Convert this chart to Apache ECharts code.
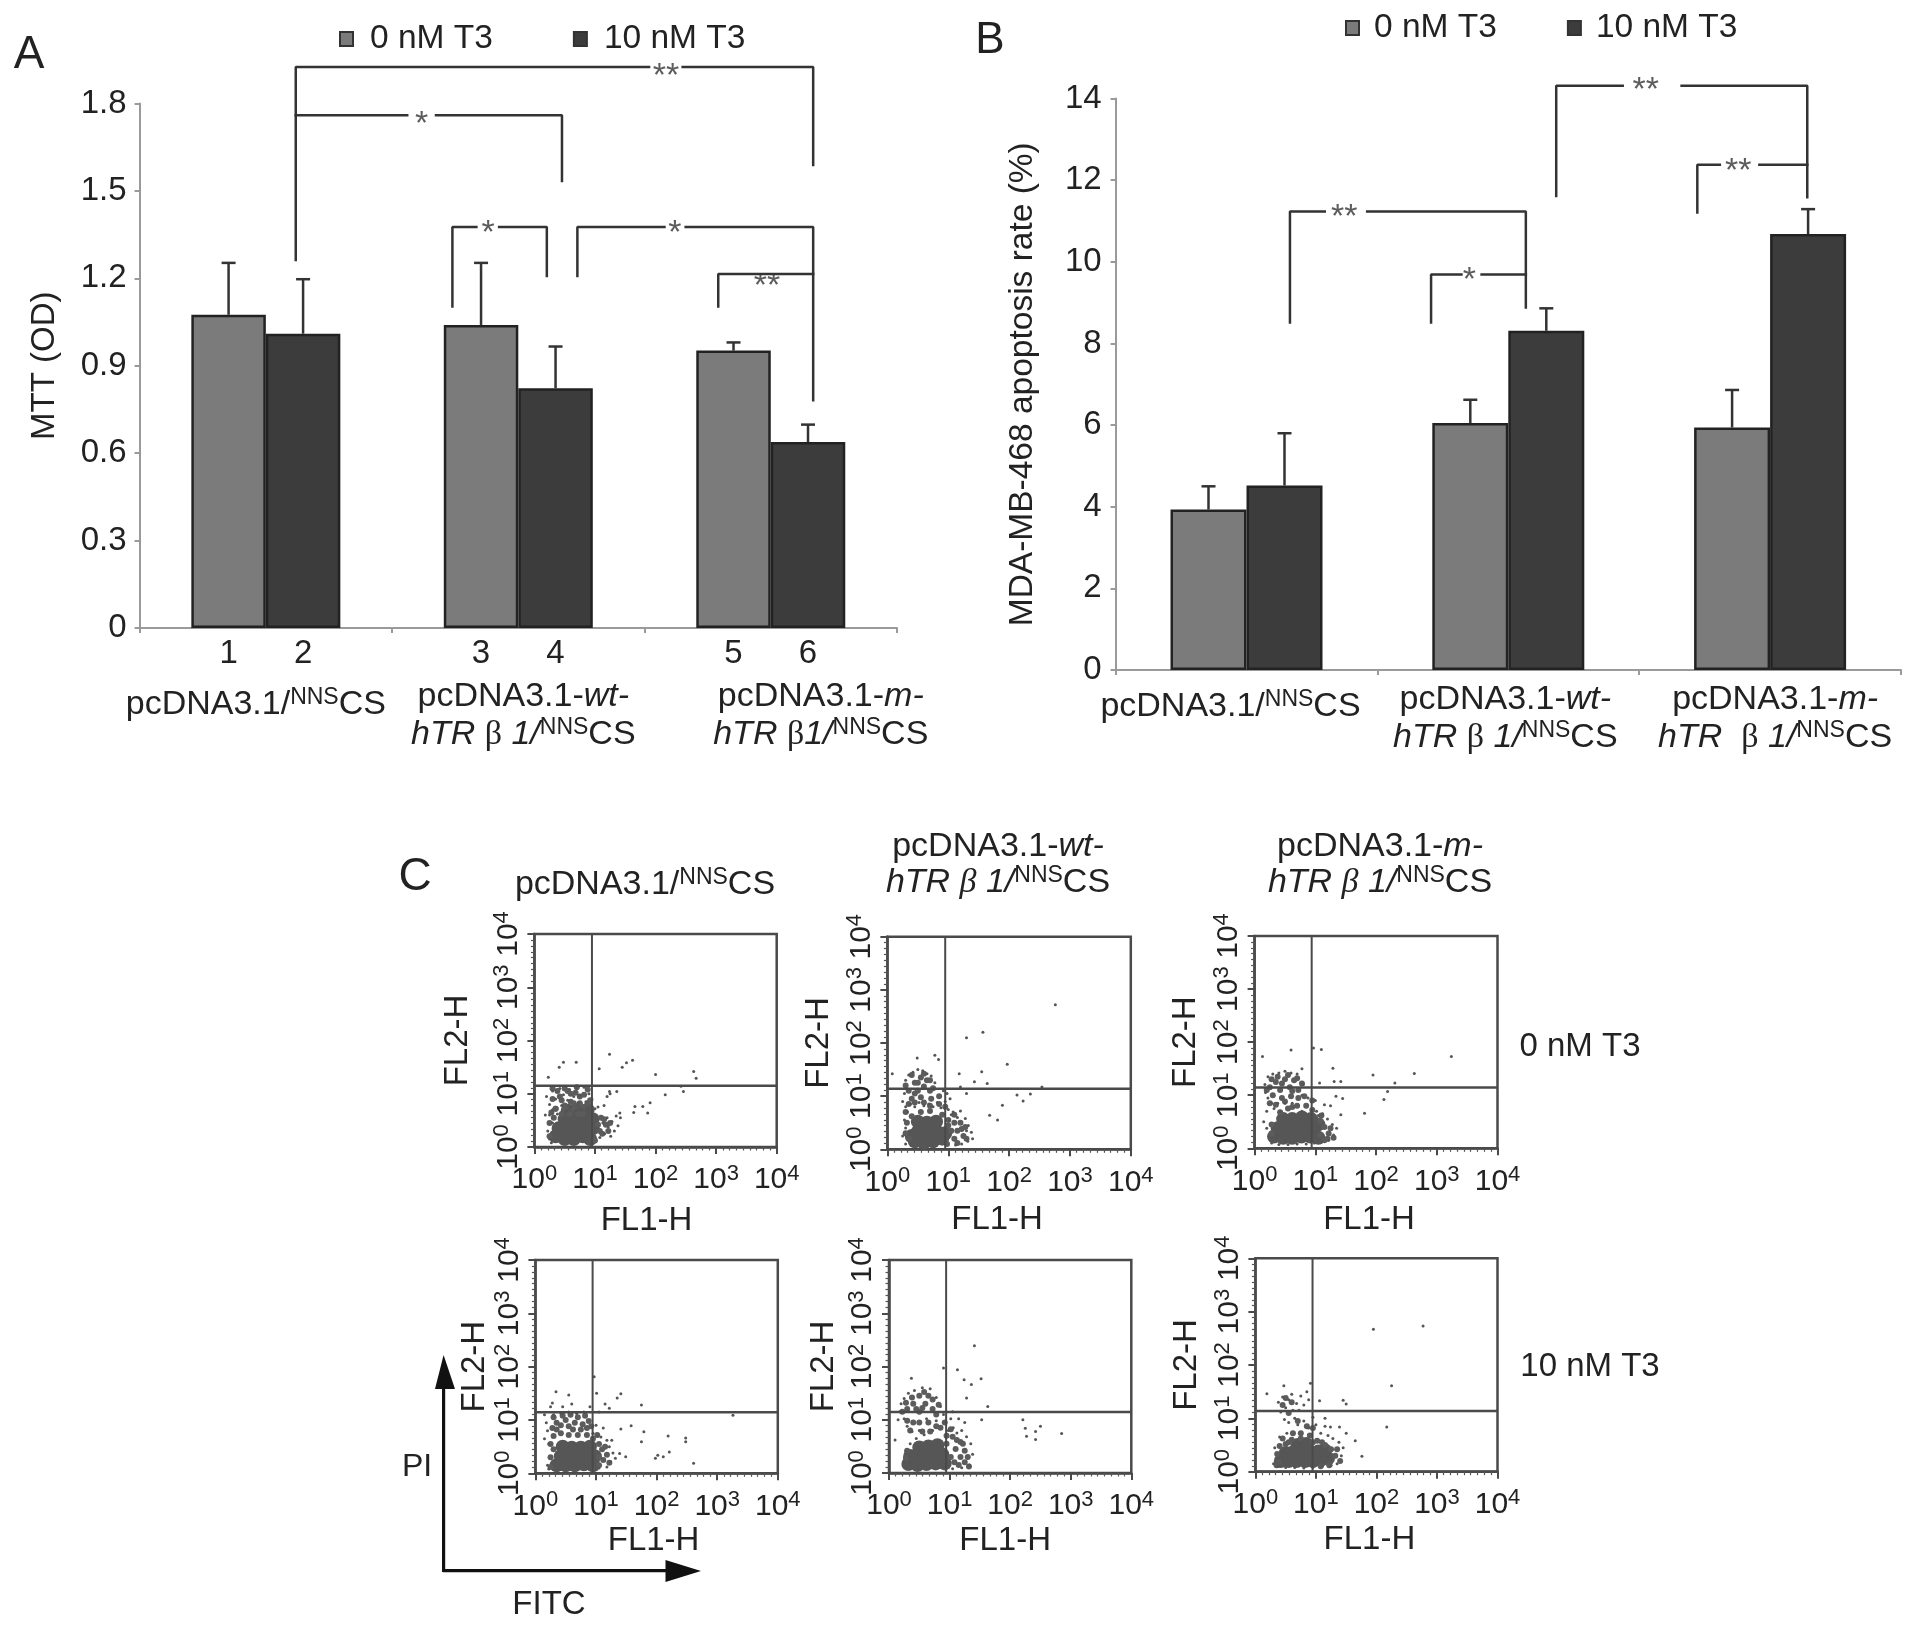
<!DOCTYPE html>
<html><head><meta charset="utf-8">
<style>html,body{margin:0;padding:0;background:#fff}#c{width:1913px;height:1630px}</style>
<script src="https://cdn.jsdelivr.net/npm/echarts@6/dist/echarts.min.js"></script>
</head><body><div id="c"></div>
<script>
// ---------- Panel A / B data ----------
const seriesNames = ['0 nM T3', '10 nM T3'];
const namesA = ['pcDNA3.1/{s|NNS}{n|CS}', 'pcDNA3.1-{i|wt-}\n{i|hTR}{n| }{g|β}{n| }{i|1/}{s|NNS}{n|CS}', 'pcDNA3.1-{i|m-}\n{i|hTR}{n| }{g|β}{i|1/}{s|NNS}{n|CS}'];
const namesB = ['pcDNA3.1/{s|NNS}{n|CS}', 'pcDNA3.1-{i|wt-}\n{i|hTR}{n| }{g|β}{n| }{i|1/}{s|NNS}{n|CS}', 'pcDNA3.1-{i|m-}\n{i|hTR}{n|  }{g|β}{n| }{i|1/}{s|NNS}{n|CS}'];
const laneNumbers0 = ['1', '3', '5'];
const laneNumbers10 = ['2', '4', '6'];
const mtt0 = [1.075, 1.04, 0.952];
const mtt10 = [1.01, 0.823, 0.638];
const mttErr0 = [1.253, 1.253, 0.98];
const mttErr10 = [1.197, 0.966, 0.698];
const apo0 = [3.93, 6.05, 5.94];
const apo10 = [4.52, 8.31, 10.68];
const apoErr0 = [4.5, 6.62, 6.86];
const apoErr10 = [5.8, 8.86, 11.29];
// significance brackets: x in group units (0..3), y in axis units
const bracketsA = [
  [[.6185,1.263],[.6185,1.925],[2.018,1.925]], [[2.151,1.925],[2.668,1.925],[2.668,1.589]],
  [[.6185,1.76],[1.060,1.76]], [[1.174,1.76],[1.673,1.76],[1.673,1.534]],
  [[1.239,1.103],[1.239,1.376],[1.334,1.376]], [[1.424,1.376],[1.613,1.376],[1.613,1.208]],
  [[1.734,1.208],[1.734,1.376],[2.079,1.376]], [[2.163,1.376],[2.668,1.376],[2.668,.782]],
  [[2.292,1.103],[2.292,1.215],[2.668,1.215]]
];
const starsA = [[2.085,1.92,'**'],[1.117,1.755,'*'],[1.38,1.38,'*'],[2.12,1.38,'*'],[2.485,1.2,'**']];
const bracketsB = [
  [[1.683,11.61],[1.683,14.31],[1.937,14.31]], [[2.162,14.31],[2.642,14.31],[2.642,11.58]],
  [[2.222,11.21],[2.222,12.38],[2.308,12.38]], [[2.459,12.38],[2.642,12.38]],
  [[.666,8.51],[.666,11.23],[.799,11.23]], [[.961,11.23],[1.567,11.23],[1.567,8.88]],
  [[1.205,8.51],[1.205,9.69],[1.321,9.69]], [[1.398,9.69],[1.567,9.69]]
];
const starsB = [[2.025,14.38,'**'],[2.378,12.4,'**'],[.873,11.28,'**'],[1.351,9.73,'*']];

// ---------- Panel C data (decades of FL1-H, FL2-H) ----------
const decadeTicks = ['0', '1', '2', '3', '4'];
const gates = [[.95,1.15],[.95,1.14],[.94,1.145],[.944,1.144],[.943,1.144],[.944,1.1375]];
const core1 = [[.35,.2],[.5,.15],[.65,.15],[.8,.2],[.92,.15],[.4,.35],[.55,.35],[.7,.35],[.85,.35],[.5,.52],[.68,.52],[.85,.55],[.55,.68],[.72,.68],[.88,.7],[.96,.35],[.96,.52]];
const mid1 = [[.35,.72],[.5,.78],[.65,.72],[.8,.75],[.42,.95],[.6,1],[.75,.95],[.32,.55],[1.08,.3],[1.18,.42],[1.1,.55],
  [.25,.2],[.25,.45],[.28,.65],[.3,.9],[.35,.72],[.38,1.05],[.45,.62],[.45,.88],[.5,.72],[.55,1.05],[.58,.62],[.6,.85],[.65,.82],[.68,1.02],[.72,.62],[.75,.82],[.8,.62],[.82,.98],[.88,.82],[.92,.88],[1,.12],[1.05,.42],[1.12,.25],[1.15,.52],[1.22,.3],[1.25,.45],[.3,1.1],[.5,1.1],[.7,1.12],[.88,1.08]];
const dots1 = [[.2,.95],[.25,.8],[.3,.7],[.3,1.05],[.35,.9],[.38,.62],[.42,1.1],[.45,.78],[.48,.98],[.52,.68],[.55,.88],[.58,1.08],[.6,.76],[.65,.95],[.68,.68],[.7,1.1],[.72,.82],[.75,.97],[.78,.72],[.82,1.12],[.85,.85],[.88,.7],[.9,1],[.93,.78],[.25,.6],[.3,.45],[.22,.3],[.25,.15],[.28,.08],[.18,.6],[.95,.9],[1,.72],[1.03,.55],[1.05,.35],[1.08,.18],[1.13,.45],[1.16,.25],[1.2,.55],[1.22,.38],[1.26,.2],[1.28,.48],[1.32,.3],[1.35,.58],[1.38,.4],[1.42,.55],[1.05,.75],[1.15,.78],[1.2,.95],[1.25,1],
  [1.24,1.74],[.48,1.59],[.69,1.59],[.41,1.5],[1.07,1.47],[1.45,1.5],[1.52,1.58],[1.62,1.63],[2,1.36],[2.63,1.42],[2.67,1.29],[2.42,1.14],[2.16,.98],[2.46,1.04],[1.91,.83],[1.79,.76],[1.66,.76],[1.87,.64],[1.64,.65],[1.41,.64],[1.36,1.04],[1.24,1.04],[.23,1.31]];
const core2 = [[.45,.15],[.6,.12],[.75,.15],[.9,.2],[.5,.33],[.65,.33],[.8,.35],[.95,.3],[.65,.5],[.8,.52],[.4,.25],[.5,.52]];
const mid2 = [[.35,1.1],[.45,1.25],[.5,1.1],[.55,1.35],[.6,1.18],[.65,1.3],[.7,1.1],[.4,.95],[.55,.98],[.72,.95],[.85,1],[.4,.62],[.55,.7],[.7,.72],[.9,.65],[1.1,.2],[1.15,.35],[1.2,.5],[1.1,.5],[1.25,.25],[.35,.2],
  [.3,1.2],[.4,1.4],[.5,1.25],[.45,1.05],[.6,1.42],[.7,1.3],[.75,1.15],[.35,.85],[.45,.88],[.6,.88],[.7,.82],[.85,.85],[.3,.7],[.3,.3],[.32,.5],[.95,.8],[1,.55],[1.05,.35],[1.1,.65],[1.15,.12],[1.22,.38],[1.3,.2],[1.28,.42],[.98,.1],[1,.45]];
const dots2 = [[.3,1.3],[.35,1.4],[.42,1.45],[.5,1.5],[.58,1.48],[.65,1.42],[.72,1.38],[.78,1.25],[.28,1.05],[.25,.9],[.3,.8],[.33,.7],[.28,.55],[.3,.4],[.25,.25],[.3,.1],[.38,.85],[.45,.8],[.52,.88],[.6,.82],[.68,.85],[.75,.8],[.82,.88],[.88,.78],[.95,.9],[1,.75],[1.03,.95],[1.05,.65],[.92,1.1],[.98,1.05],[1.02,.55],[1.08,.7],[1.15,.6],[1.2,.72],[1.28,.58],[1.33,.45],[1.38,.32],[1.4,.2],[1.32,.15],[1.22,.1],[1.12,.08],[1.3,.35],
  [2.76,2.72],[1.3,2.1],[1.57,2.2],[1.97,1.6],[.49,1.72],[.78,1.77],[.84,1.69],[.08,1.42],[1.18,1.42],[1.55,1.46],[1.43,1.27],[1.64,1.24],[2.54,1.17],[2.13,1.02],[2.35,1.04],[2.23,.91],[1.89,.83],[1.68,.64],[1.81,.55],[1.2,1.17],[1.3,1.05]];
const core3 = [[.32,.22],[.47,.2],[.62,.2],[.77,.22],[.92,.22],[.38,.38],[.53,.38],[.68,.38],[.83,.4],[.97,.35],[.62,.55],[.78,.58],[.93,.55],[.47,.55],[1.05,.2],[1.05,.45]];
const mid3 = [[.25,1.15],[.35,1.25],[.42,1.1],[.5,1.3],[.58,1.15],[.65,1.28],[.72,1.1],[.3,1],[.45,.95],[.6,.98],[.7,.8],[.85,.8],[.55,.75],[1.08,.25],[1.15,.4],[1.08,.52],[1.22,.28],
  [.2,1.1],[.28,1.3],[.38,1.35],[.45,1.22],[.55,1.38],[.62,1.08],[.7,1.32],[.78,1.22],[.25,.85],[.35,.82],[.42,.68],[.5,.88],[.62,.78],[.72,.95],[.82,.98],[.95,.9],[.28,.45],[.28,.28],[1.15,.15],[1.25,.38],[1.3,.2],[1.1,.62],[1.2,.18],[.95,.72]];
const dots3 = [[.18,1.05],[.17,1.2],[.22,1.35],[.3,1.4],[.4,1.42],[.5,1.45],[.6,1.42],[.7,1.4],[.78,1.5],[.8,1.2],[.78,1],[.22,.95],[.28,.85],[.2,.7],[.32,.75],[.15,.5],[.2,.38],[.38,.85],[.42,.7],[.5,.85],[.62,.85],[.78,.7],[.88,.95],[.95,.75],[1,.9],[1.02,.7],[1.05,.62],[1.12,.65],[1.2,.55],[1.28,.45],[1.35,.38],[1.3,.25],[1.22,.15],[1.1,.12],[.28,.1],[.4,.07],[.55,.07],[.7,.08],[.85,.08],[.98,.1],[1.15,.82],[1.25,.8],
  [.13,1.73],[.6,1.85],[1.1,1.86],[.97,1.89],[1.29,1.51],[3.24,1.73],[2.63,1.41],[1.95,1.38],[2.31,1.23],[2.19,1.07],[2.13,.92],[1.81,.66],[1.31,1.26],[1.42,1.26],[1.45,.94],[1.34,.98],[1.42,.63],[1.07,1.23]];
const core4 = [[.35,.15],[.5,.15],[.65,.15],[.8,.17],[.95,.15],[.42,.32],[.58,.32],[.72,.32],[.88,.33],[.6,.48],[.75,.48],[.9,.5],[.45,.5],[.98,.32]];
const mid4 = [[.3,.7],[.42,.75],[.55,.72],[.7,.72],[.85,.72],[.35,.95],[.5,1],[.65,.95],[.78,.92],[.88,.98],[1.05,.3],[1.1,.45],[1.05,.55],[.25,.3],
  [.25,.55],[.28,.85],[.35,.82],[.42,.9],[.45,1.08],[.55,.88],[.62,.82],[.7,1.05],[.75,.82],[.85,.85],[.3,1.05],[.58,1.1],[.95,.65],[1.05,.15],[1.12,.25],[1.18,.35],[1.15,.5],[1.22,.2],[.25,.12],[.3,.45],[.82,1.08],[.92,.88],[1.02,.72]];
const dots4 = [[.18,.95],[.2,.8],[.15,.65],[.22,.55],[.2,.15],[.22,.08],[.3,1.1],[.42,1.12],[.55,1.15],[.68,1.12],[.8,1.15],[.25,1.25],[.45,1.25],[.6,1.3],[.95,.75],[1,.9],[1.03,.7],[1.08,.68],[1.18,.62],[1.22,.5],[1.28,.38],[1.24,.22],[1.18,.12],[1.05,.1],[1.32,.28],[.9,1.25],[1.05,1.15],[1.15,1.3],[.28,1.32],[.15,1.1],[1.12,.85],
  [.34,1.53],[.55,1.47],[.97,1.81],[1.01,1.5],[1.35,1.41],[1.41,1.49],[1.75,1.28],[1.22,1.22],[3.26,1.09],[1.58,.89],[1.41,.83],[1.79,.78],[1.75,.59],[2.19,.7],[2.48,.66],[2.48,.59],[2.02,.34],[2.11,.31],[2.21,.4],[1.98,.28],[2.61,.19],[1.49,.31],[1.39,.37],[1.26,.62]];
const core5 = [[.32,.17],[.47,.15],[.62,.17],[.77,.18],[.92,.18],[.45,.32],[.6,.33],[.75,.35],[.88,.35],[.65,.5],[.8,.52],[.35,.32],[.5,.48]];
const mid5 = [[.3,1.2],[.4,1.3],[.5,1.15],[.6,1.3],[.72,1.2],[.5,1.45],[.65,1.45],[.4,.95],[.65,.95],[.85,.85],[.95,.7],[1.08,.2],[1.18,.3],[1.1,.45],[1.25,.2],[1.25,.42],[1.18,.58],
  [.22,1.15],[.28,1.32],[.38,1.42],[.45,1.2],[.55,1.22],[.58,1.52],[.72,1.38],[.78,1.1],[.82,1.28],[.3,.98],[.35,.8],[.5,.95],[.55,.78],[.68,.78],[.78,.88],[.92,.95],[1.02,.82],[.3,.42],[.28,.28],[.95,.55],[1.02,.3],[1.15,.15],[1.3,.3],[1.32,.12],[1.22,.55],[1.05,.68],[1.12,.62]];
const dots5 = [[.18,1.15],[.2,1.3],[.25,1.4],[.32,1.5],[.42,1.55],[.55,1.6],[.68,1.58],[.78,1.42],[.85,1.25],[.9,1.1],[.25,1.02],[.3,.88],[.38,.78],[.45,.65],[.5,.8],[.58,.72],[.62,1.02],[.72,.8],[.78,.98],[.9,.95],[.98,.8],[1.02,1.02],[1.06,.85],[1.05,1.15],[1.12,.75],[1.2,.8],[1.28,.68],[1.35,.55],[1.38,.35],[1.33,.15],[1.2,.1],[1.05,.08],[.28,.1],[.35,.55],[.28,.42],[1.15,1.02],[1.25,.95],[.15,1],[.1,.62],
  [1.41,2.39],[.9,1.97],[1.13,1.94],[1.52,1.77],[1.24,1.75],[1.36,1.66],[.37,1.78],[1.63,1.25],[1.28,1.41],[2.21,1],[2.25,.84],[2.5,.88],[2.42,.78],[2.27,.69],[2.42,.63],[2.85,.74],[1.53,1]];
const core6 = [[.42,.2],[.55,.2],[.68,.2],[.82,.2],[.95,.2],[1.08,.22],[1.2,.25],[.5,.35],[.63,.37],[.76,.38],[.9,.38],[1.04,.38],[.7,.5],[.84,.52],[1.15,.4]];
const mid6 = [[.36,.33],[1.25,.42],[1.15,.5],[.6,.6],[.9,.68],[.75,.72],[.5,.52],[1.32,.3],[1.02,.58],
  [.4,.48],[.55,.55],[.62,.72],[.45,.62],[.75,.62],[.95,.55],[1.1,.55],[1.35,.42],[1.4,.2],[.38,.18],[.35,.12],[1.22,.12],[1.08,.1],[.85,.85],[.95,.82],[.7,.95],[.55,1.1],[.6,1.3],[.45,1.25],[.5,1.38]];
const dots6 = [[.38,1.3],[.45,1.4],[.55,1.35],[.6,1.45],[.68,1.28],[.75,1.42],[.42,1.12],[.5,1.2],[.62,1.15],[.72,1.15],[.8,1.25],[.85,1.5],[.88,1.35],[.48,.98],[.55,.92],[.65,1],[.7,.88],[.8,.95],[.88,.82],[.95,1.02],[1,.88],[1.08,.72],[1.15,.85],[.4,.65],[.32,.45],[.3,.15],[.38,.1],[.5,.08],[.65,.08],[.8,.07],[.95,.08],[1.1,.1],[1.25,.12],[1.35,.15],[1.42,.3],[1.45,.45],[1.38,.55],[1.28,.62],[1.2,.68],[.52,.72],
  [1.95,2.67],[2.77,2.73],[2.25,1.61],[2.17,.84],[.19,1.46],[.47,1.61],[.91,1.66],[1.45,1.34],[1.5,1.27],[1.06,1.33],[1.76,.29],[1.65,.58],[1.39,.84],[1.15,1],[1.24,.84],[1.5,.72]];
const coreLists = [core1, core2, core3, core4, core5, core6];
const midLists = [mid1, mid2, mid3, mid4, mid5, mid6];
const dotLists = [dots1, dots2, dots3, dots4, dots5, dots6];

// ---------- Layout & style ----------
const FONT = '"Liberation Sans", Arial, sans-serif';
const INK = '#222', LIGHT = '#7b7b7b', DARK = '#3c3c3c', EDGE = '#222', AXIS = '#9a9a9a';
const barW = [74.5, 76];
const grids = [
  {left: 139.6, top: 103.5, width: 757.4, height: 524.5},
  {left: 1115.6, top: 98.5, width: 785.4, height: 571.5},
  {left: 534.4, top: 934, width: 242.3, height: 213},
  {left: 887.4, top: 936.7, width: 243.4, height: 212.6},
  {left: 1254.6, top: 936, width: 242.9, height: 212.3},
  {left: 535.4, top: 1260, width: 242.4, height: 213.3},
  {left: 889, top: 1260, width: 242.3, height: 213},
  {left: 1255.4, top: 1258.3, width: 242.1, height: 213.4}
];
const yNameGap = [60, 52, 52, 43, 49, 52];   // gap to the FL2-H title
const xNameShift = [9, 12, 7, 3, 5, 7];      // leftwards shift of the FL1-H title
const xNameGap = [57, 54, 55, 46, 51, 52];

function axisRich() {
  const base = {fontFamily: FONT, fontSize: 34, color: INK, lineHeight: 38};
  return {
    n: base,
    i: {...base, fontStyle: 'italic'},
    g: {...base, fontFamily: '"Liberation Serif", serif'},
    s: {...base, fontSize: 23, padding: [0, 0, 14, 0]},
  };
}
function styled(name, dx) {
  // plain runs become {n|...}; dx shifts the centred label
  const lines = name.split('\n').map(l => l.replace(/^([^{]+)/, '{n|$1}'));
  const pad = '{pad| }';
  return lines.map(l => dx > 0 ? pad + l : l + pad).join('\n');
}
function catLabel(names, shifts, singleLH) {
  const rich = {...axisRich()};
  shifts.forEach((dx, k) => {
    rich['pad' + k] = {width: Math.abs(dx) * 2, lineHeight: names[k].includes('\n') ? 38 : singleLH, fontSize: 10, fontFamily: FONT};
  });
  return {
    show: true, interval: 0, hideOverlap: false, color: INK, fontFamily: FONT, fontSize: 34, align: 'center', verticalAlign: 'top',
    formatter: (v, idx) => styled(v, shifts[idx]).replace(/\{pad\|/g, '{pad' + idx + '|'),
    rich
  };
}
const xAxes = [], yAxes = [], series = [];
function barPanel(g, names, shifts, margin, singleLH, yMax, interval, fmt, yName, nameGap, vals0, vals10, err0, err10, brackets, stars, laneA, laneB, yMargin) {
  xAxes.push({
    type: 'category', gridIndex: g, data: names, boundaryGap: true,
    axisLine: {show: true, lineStyle: {color: AXIS, width: 2}},
    axisTick: {show: true, length: 5, lineStyle: {color: AXIS, width: 2}},
    axisLabel: {...catLabel(names, shifts, singleLH), margin}
  });
  const helper = xAxes.length;
  xAxes.push({type: 'value', gridIndex: g, min: 0, max: 3, show: false});
  yAxes.push({
    type: 'value', gridIndex: g, min: 0, max: yMax, interval, splitLine: {show: false},
    name: yName, nameLocation: 'middle', nameRotate: 90, nameGap,
    nameTextStyle: {color: INK, fontFamily: FONT, fontSize: g === 0 ? 33 : 33.5},
    axisLine: {show: true, lineStyle: {color: AXIS, width: 2}},
    axisTick: {show: true, length: 5, lineStyle: {color: AXIS, width: 2}},
    axisLabel: {color: INK, fontFamily: FONT, fontSize: 33, margin: yMargin, formatter: fmt}
  });
  const xi = helper - 1, yi = yAxes.length - 1;
  [vals0, vals10].forEach((vals, k) => {
    series.push({
      type: 'bar', name: seriesNames[k], xAxisIndex: xi, yAxisIndex: yi, data: vals,
      barWidth: barW[g], barGap: '0%', silent: true,
      itemStyle: {color: k ? DARK : LIGHT, borderColor: EDGE, borderWidth: 2.5},
      label: laneA ? {show: true, position: 'bottom', distance: 9, color: INK, fontFamily: FONT, fontSize: 33,
        formatter: p => (k ? laneB : laneA)[p.dataIndex]} : {show: false}
    });
  });
  [err0, err10].forEach((tops, k) => {
    const vals = k ? vals10 : vals0;
    series.push({
      type: 'custom', xAxisIndex: xi, yAxisIndex: yi, silent: true, clip: false,
      data: tops.map((t, i) => [i, t, vals[i]]),
      encode: {x: 0, y: 1},
      renderItem: (params, api) => {
        const top = api.coord([api.value(0), api.value(1)]);
        const base = api.coord([api.value(0), api.value(2)]);
        const x = top[0] + (k ? 1 : -1) * barW[g] / 2;
        const st = {stroke: '#333', lineWidth: 2.5, fill: 'none'};
        return {type: 'group', children: [
          {type: 'line', shape: {x1: x, y1: top[1], x2: x, y2: base[1]}, style: st},
          {type: 'line', shape: {x1: x - 7, y1: top[1], x2: x + 7, y2: top[1]}, style: st}
        ]};
      }
    });
  });
  brackets.forEach(seg => series.push({
    type: 'line', xAxisIndex: helper, yAxisIndex: yi, data: seg, clip: false, silent: true, symbol: 'none',
    lineStyle: {color: '#333', width: 2.5, cap: 'square'}
  }));
  series.push({
    type: 'scatter', xAxisIndex: helper, yAxisIndex: yi, data: stars, symbolSize: 0, clip: false, silent: true,
    encode: {x: 0, y: 1},
    label: {show: true, position: 'inside', offset: [0, 8], color: '#333', fontFamily: FONT, fontSize: 34, formatter: p => p.data[2]}
  });
}
barPanel(0, namesA, [-10, 5, 50], 50, 54, 1.8, 0.3, v => v === 0 ? '0' : v.toFixed(1), 'MTT (OD)', 78, mtt0, mtt10, mttErr0, mttErr10, bracketsA, starsA, laneNumbers0, laneNumbers10, 13);
barPanel(1, namesB, [-16, -3, 5], 11, 52, 14, 2, v => String(v), 'MDA-MB-468 apoptosis rate (%)', 76, apo0, apo10, apoErr0, apoErr10, bracketsB, starsB, null, null, 14);

const tickRich = {
  m: {fontFamily: FONT, fontSize: 30, color: INK, lineHeight: 36},
  u: {fontFamily: FONT, fontSize: 22, color: INK, lineHeight: 36, padding: [0, 0, 13, 0]}
};
const fmtDecade = v => '{m|10}{u|' + decadeTicks[v] + '}';
for (let p = 0; p < 6; p++) {
  const g = p + 2;
  const edge = {show: true, lineStyle: {color: '#4a4a4a', width: 2.5}};
  const tick = {show: true, length: 7, lineStyle: {color: '#4a4a4a', width: 2}};
  const minor = {show: true, splitNumber: 9, length: 3.5, lineStyle: {color: '#555', width: 1.2}};
  xAxes.push({type: 'value', gridIndex: g, min: 0, max: 4, interval: 1, splitLine: {show: false}, axisLine: edge, axisTick: tick, minorTick: minor,
    name: 'FL1-H', nameLocation: 'middle', nameGap: xNameGap[p],
    nameTextStyle: {color: INK, fontFamily: FONT, fontSize: 33, padding: [0, xNameShift[p] * 2, 0, 0]},
    axisLabel: {show: true, margin: 15, showMinLabel: true, showMaxLabel: true, hideOverlap: false, formatter: fmtDecade, rich: tickRich}});
  yAxes.push({type: 'value', gridIndex: g, min: 0, max: 4, interval: 1, splitLine: {show: false}, axisLine: edge, axisTick: tick, minorTick: minor,
    name: 'FL2-H', nameLocation: 'middle', nameRotate: 90, nameGap: yNameGap[p],
    nameTextStyle: {color: INK, fontFamily: FONT, fontSize: 33},
    axisLabel: {show: true, rotate: 90, margin: 8, showMinLabel: true, showMaxLabel: true, hideOverlap: false, formatter: fmtDecade, rich: tickRich}});
  const xi = xAxes.length - 1, yi = yAxes.length - 1;
  series.push({type: 'scatter', xAxisIndex: xi, yAxisIndex: yi, data: coreLists[p], symbolSize: 14, silent: true, itemStyle: {color: '#565656', opacity: 1}});
  series.push({type: 'scatter', xAxisIndex: xi, yAxisIndex: yi, data: midLists[p], symbolSize: 6, silent: true, itemStyle: {color: '#5c5c5c', opacity: 1}});
  series.push({type: 'scatter', xAxisIndex: xi, yAxisIndex: yi, data: dotLists[p], symbolSize: 3, silent: true, itemStyle: {color: '#555', opacity: 1}});
  series.push({type: 'line', xAxisIndex: xi, yAxisIndex: yi, data: [[gates[p][0], 0], [gates[p][0], 4]], symbol: 'none', silent: true, lineStyle: {color: '#4a4a4a', width: 2}});
  series.push({type: 'line', xAxisIndex: xi, yAxisIndex: yi, data: [[0, gates[p][1]], [4, gates[p][1]]], symbol: 'none', silent: true, lineStyle: {color: '#4a4a4a', width: 2.5}});
}
grids.forEach((g, i) => {
  if (i >= 2) { g.show = true; g.borderColor = '#4a4a4a'; g.borderWidth = 2.5; g.backgroundColor = 'transparent'; }
});

// ---------- Free text and the PI / FITC arrows ----------
const gRich = {
  n: {fontFamily: FONT, fontSize: 34, fill: INK, lineHeight: 36},
  i: {fontFamily: FONT, fontSize: 34, fontStyle: 'italic', fill: INK, lineHeight: 36},
  b: {fontFamily: '"Liberation Serif", serif', fontSize: 34, fontStyle: 'italic', fill: INK, lineHeight: 36},
  s: {fontFamily: FONT, fontSize: 23, fill: INK, lineHeight: 36, padding: [0, 0, 14, 0]}
};
const txt = (x, y, text, size) => ({type: 'text', silent: true, x, y, style: {text, x: 0, y: 0, fill: INK, align: 'center', verticalAlign: 'middle', font: size + 'px ' + FONT}});
const rtxt = (x, y, text) => ({type: 'text', silent: true, x, y, style: {text, x: 0, y: 0, fill: INK, align: 'center', verticalAlign: 'middle', font: '34px ' + FONT, rich: gRich}});
const lineEl = (x1, y1, x2, y2) => ({type: 'line', silent: true, shape: {x1, y1, x2, y2}, style: {stroke: '#111', lineWidth: 3.2}});
const graphic = [
  txt(29, 55, 'A', 46), txt(990, 41, 'B', 44), txt(415, 877, 'C', 46),
  rtxt(645, 885, '{n|pcDNA3.1/}{s|NNS}{n|CS}'),
  rtxt(998, 865, '{n|pcDNA3.1-}{i|wt-}\n{i|hTR}{n| }{b|β}{n| }{i|1/}{s|NNS}{n|CS}'),
  rtxt(1380, 865, '{n|pcDNA3.1-}{i|m-}\n{i|hTR}{n| }{b|β}{n| }{i|1/}{s|NNS}{n|CS}'),
  txt(1580, 1047, seriesNames[0], 33), txt(1590, 1367, seriesNames[1], 33),
  txt(417, 1467, 'PI', 32), txt(549, 1605, 'FITC', 33),
  lineEl(443.6, 1572, 443.6, 1385), lineEl(443, 1570.7, 668, 1570.7),
  {type: 'polygon', silent: true, shape: {points: [[443.6, 1355], [435, 1389], [455, 1389]]}, style: {fill: '#111'}},
  {type: 'polygon', silent: true, shape: {points: [[701, 1571], [665.5, 1560], [665.5, 1582]]}, style: {fill: '#111'}}
];

const legendItem = {icon: 'rect', itemWidth: 13, itemHeight: 14, data: seriesNames, orient: 'horizontal', selectedMode: false,
  itemStyle: {borderColor: '#333', borderWidth: 2},
  textStyle: {color: INK, fontFamily: FONT, fontSize: 33.5}};
const chart = echarts.init(document.getElementById('c'), null, {renderer: 'canvas', width: 1913, height: 1630});
chart.setOption({
  animation: false, backgroundColor: '#fff', textStyle: {fontFamily: FONT},
  grid: grids, xAxis: xAxes, yAxis: yAxes, series, graphic,
  legend: [
    {...legendItem, left: 334, top: 17, itemGap: 80, textStyle: {...legendItem.textStyle, padding: [0, 0, 0, 12]}},
    {...legendItem, left: 1340, top: 6, itemGap: 70, textStyle: {...legendItem.textStyle, padding: [0, 0, 0, 10]}}
  ]
});
</script></body></html>
